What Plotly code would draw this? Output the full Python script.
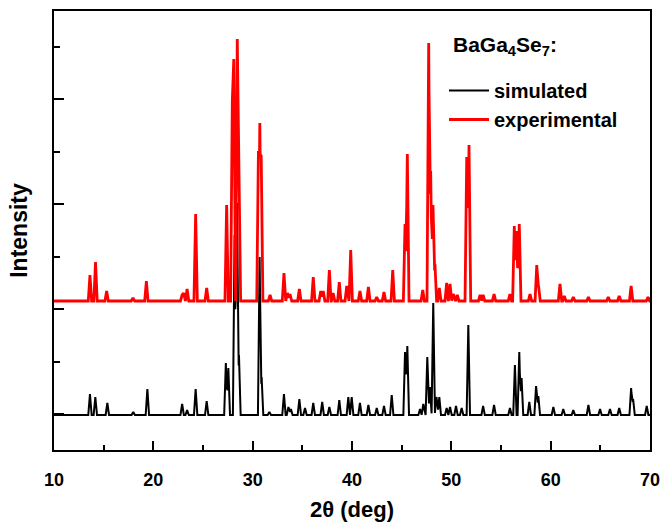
import plotly.graph_objects as go

# ---- data (2θ in degrees, peak heights in arbitrary units) ----
sim_pos = [13.62, 14.16, 15.37, 17.98, 19.40, 22.90, 23.40, 24.26, 25.37, 27.30,
           27.55, 28.18, 28.42, 28.62, 30.70, 30.90, 31.68, 33.15, 33.60, 33.85,
           34.70, 35.27, 36.10, 37.00, 37.72, 38.72, 39.63, 39.97, 40.80, 41.65,
           42.49, 43.22, 44.00, 45.34, 45.57, 46.85, 47.18, 47.58, 47.85, 48.18,
           48.50, 48.79, 49.53, 49.87, 50.47, 51.04, 51.71, 53.20, 54.30, 55.90,
           56.40, 56.84, 57.07, 57.85, 58.53, 58.76, 60.27, 61.27, 62.28, 63.80,
           64.97, 65.97, 66.90, 68.10, 68.30, 69.67]
sim_int = [21, 18, 12, 3, 26, 11, 5, 26, 14, 52,
           47, 180, 212, 60, 158, 38, 3, 21, 8, 6,
           16, 7, 12, 13, 8, 15, 18, 18, 12, 10,
           7, 9, 20, 63, 69, 6, 11, 58, 28, 112,
           18, 18, 7, 8, 9, 7, 90, 9, 10, 7,
           50, 63, 37, 13, 29, 19, 8, 6, 5, 10,
           6, 6, 7, 27, 16, 9]

exp_pos = [13.62, 14.18, 15.30, 17.95, 19.30, 22.90, 23.05, 23.40, 24.26, 25.37,
           27.38, 27.95, 28.10, 28.45, 28.62, 30.58, 30.72, 30.86, 31.75, 33.15,
           33.50, 33.76, 34.70, 36.10, 36.85, 37.10, 37.72, 38.10, 38.72, 39.47,
           39.87, 40.80, 41.65, 42.49, 43.22, 44.10, 45.34, 45.57, 47.12, 47.72,
           47.92, 48.15, 48.35, 48.79, 49.53, 49.87, 50.20, 50.60, 51.55, 51.78,
           52.90, 53.20, 54.30, 55.90, 56.34, 56.58, 56.84, 57.92, 58.60, 58.78,
           60.94, 61.37, 62.28, 63.80, 65.80, 66.90, 68.10, 69.80]
exp_int = [26, 39, 10, 3, 20, 6, 8, 12, 87, 13,
           96, 200, 242, 262, 110, 150, 178, 145, 6, 28,
           8, 7, 12, 24, 10, 10, 31, 8, 19, 15,
           51, 10, 14, 4, 9, 31, 77, 147, 11, 258,
           130, 96, 37, 13, 18, 17, 7, 6, 144, 156,
           6, 6, 7, 7, 75, 70, 77, 7, 36, 15,
           17, 5, 4, 4, 4, 5, 15, 4]

sim_offset = 0
exp_offset = 114

x_range = [10, 70]
x_ticks = [10, 20, 30, 40, 50, 60, 70]


def profile(pos, inten, offset, half=0.17):
    """Polyline through the peak list: each peak is drawn as a narrow spike."""
    xs = {x_range[0], x_range[1]}
    for p in pos:
        xs.update([round(p - half, 4), p, round(p + half, 4)])
    xs = sorted(x for x in xs if x_range[0] <= x <= x_range[1])
    ys = []
    for x in xs:
        v = 0.0
        for p, h in zip(pos, inten):
            d = abs(x - p)
            if d < half:
                v = max(v, h * (1 - d / half))
        ys.append(v + offset)
    return xs, ys


sx, sy = profile(sim_pos, sim_int, sim_offset)
ex, ey = profile(exp_pos, exp_int, exp_offset)

fig = go.Figure()
fig.add_trace(go.Scatter(x=sx, y=sy, mode="lines", name="simulated",
                         line=dict(color="#000000", width=2)))
fig.add_trace(go.Scatter(x=ex, y=ey, mode="lines", name="experimental",
                         line=dict(color="#ff0000", width=2.8)))

font_family = "Liberation Sans, Arial, sans-serif"

fig.update_layout(
    width=663, height=524,
    margin=dict(l=54, r=13, t=11, b=74),
    paper_bgcolor="white", plot_bgcolor="white",
    showlegend=True,
    legend=dict(x=(444 - 54) / 596, y=(450 - 71) / 439, xanchor="left", yanchor="top",
                itemwidth=40,
                font=dict(family=font_family, size=20, color="black", weight="bold"),
                bgcolor="rgba(0,0,0,0)", borderwidth=0, tracegroupgap=0),
    font=dict(family=font_family, color="black"),
    annotations=[dict(text="BaGa<sub>4</sub>Se<sub>7</sub>:", xref="paper", yref="paper",
                      x=(451 - 54) / 596, y=(450 - 46) / 439, xanchor="left", yanchor="middle",
                      showarrow=False,
                      font=dict(family=font_family, size=21, color="black", weight="bold"))],
)

fig.update_xaxes(
    range=x_range, tickvals=x_ticks, ticktext=[str(t) for t in x_ticks],
    showgrid=False, zeroline=False, automargin=False,
    showline=True, linecolor="black", linewidth=2, mirror=True,
    ticks="inside", ticklen=9, tickwidth=2, tickcolor="black",
    minor=dict(ticks="inside", ticklen=5, tickwidth=2, tickcolor="black", dtick=5, tick0=5, showgrid=False),
    tickfont=dict(family=font_family, size=18, color="black", weight="bold"),
    ticklabelstandoff=12,
    title=dict(text="2θ (deg)", standoff=13,
               font=dict(family=font_family, size=22, color="black", weight="bold")),
)

fig.update_yaxes(
    range=[-35, 404], tick0=1, dtick=105, showticklabels=False,
    showgrid=False, zeroline=False, automargin=False,
    showline=True, linecolor="black", linewidth=2, mirror=True,
    ticks="inside", ticklen=10, tickwidth=2, tickcolor="black",
    minor=dict(ticks="inside", ticklen=6, tickwidth=2, tickcolor="black", dtick=52.5, tick0=53.5, showgrid=False),
    title=dict(text="Intensity", standoff=18,
               font=dict(family=font_family, size=23, color="black", weight="bold")),
)

fig.write_html("out.html", config={"displayModeBar": False},
               post_script="document.body.style.margin='0';")
